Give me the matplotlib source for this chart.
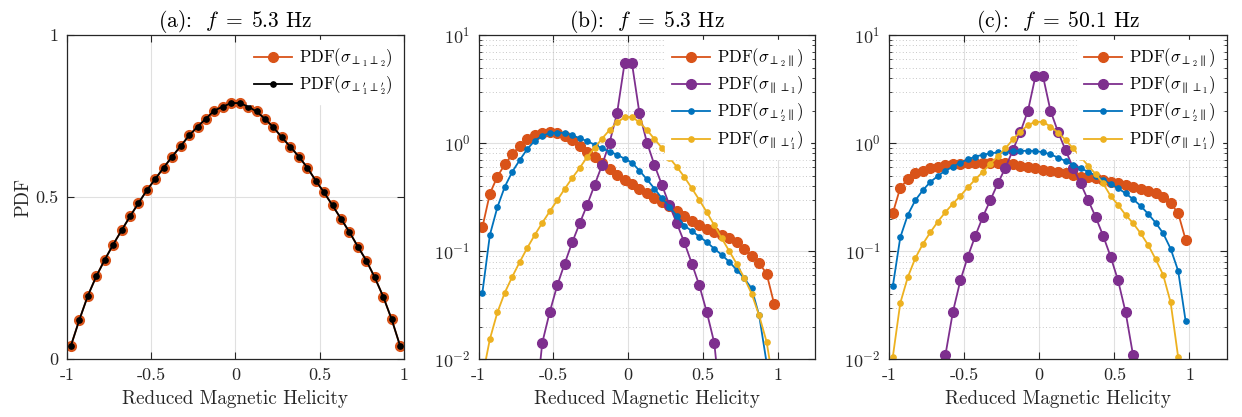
import numpy as np
import matplotlib
matplotlib.use("Agg")
import matplotlib.pyplot as plt
from matplotlib.ticker import LogLocator, NullFormatter

plt.rcParams['font.family'] = 'serif'
plt.rcParams['font.serif'] = ['cmr10', 'DejaVu Serif']
plt.rcParams['mathtext.fontset'] = 'cm'
plt.rcParams['axes.unicode_minus'] = False
plt.rcParams['axes.formatter.use_mathtext'] = True

# bin centres of the reduced magnetic helicity
h_bins = np.arange(-0.975, 1.0, 0.05)

# ---- (a) f = 5.3 Hz, linear ----
pdf_a_perp12 = [0.041, 0.121, 0.195, 0.255, 0.306, 0.353, 0.397, 0.440, 0.481, 0.521,
                0.556, 0.591, 0.625, 0.657, 0.690, 0.717, 0.742, 0.767, 0.779, 0.790,
                0.790, 0.779, 0.764, 0.741, 0.715, 0.684, 0.655, 0.625, 0.591, 0.551,
                0.514, 0.474, 0.433, 0.392, 0.347, 0.304, 0.252, 0.193, 0.123, 0.041]
pdf_a_perp12p = pdf_a_perp12

# ---- (b) f = 5.3 Hz, log ----
pdf_b_perp2par = [0.166, 0.340, 0.489, 0.635, 0.785, 0.945, 1.08, 1.18, 1.24, 1.26,
                  1.23, 1.16, 1.06, 0.94, 0.83, 0.74, 0.65, 0.575, 0.51, 0.458,
                  0.415, 0.378, 0.345, 0.312, 0.285, 0.26, 0.234, 0.211, 0.191, 0.176,
                  0.160, 0.149, 0.140, 0.131, 0.120, 0.105, 0.0896, 0.0778, 0.0615, 0.0325]
pdf_b_parperp1 = [np.nan, np.nan, np.nan, np.nan, np.nan, np.nan, np.nan, 0.003, 0.0141, 0.0272,
                  0.048, 0.0766, 0.120, 0.180, 0.267, 0.409, 0.626, 1.01, 1.88, 5.45,
                  5.45, 1.88, 1.01, 0.626, 0.409, 0.267, 0.180, 0.120, 0.0766, 0.048,
                  0.0272, 0.0141, 0.003, np.nan, np.nan, np.nan, np.nan, np.nan, np.nan, np.nan]
pdf_b_perp2ppar = [0.0413, 0.141, 0.254, 0.395, 0.543, 0.697, 0.88, 1.05, 1.17, 1.23,
                   1.25, 1.24, 1.18, 1.11, 1.04, 0.966, 0.893, 0.832, 0.78, 0.716,
                   0.658, 0.555, 0.461, 0.378, 0.308, 0.258, 0.211, 0.172, 0.153, 0.136,
                   0.121, 0.105, 0.0922, 0.0794, 0.067, 0.056, 0.045, 0.0253, 0.0092, np.nan]
pdf_b_parperp1p = [0.0068, 0.0153, 0.027, 0.0413, 0.058, 0.0794, 0.107, 0.141, 0.182, 0.233,
                   0.295, 0.376, 0.474, 0.587, 0.742, 0.905, 1.10, 1.32, 1.55, 1.73,
                   1.75, 1.55, 1.32, 1.09, 0.90, 0.73, 0.60, 0.485, 0.381, 0.297,
                   0.229, 0.173, 0.131, 0.100, 0.076, 0.0565, 0.0402, 0.0253, 0.0144, 0.0054]

# ---- (c) f = 50.1 Hz, log ----
pdf_c_perp2par = [0.224, 0.386, 0.461, 0.524, 0.555, 0.583, 0.604, 0.622, 0.635, 0.644,
                  0.649, 0.658, 0.658, 0.658, 0.653, 0.649, 0.635, 0.617, 0.604, 0.583,
                  0.563, 0.555, 0.536, 0.524, 0.506, 0.488, 0.481, 0.471, 0.455, 0.439,
                  0.424, 0.406, 0.392, 0.378, 0.362, 0.343, 0.315, 0.277, 0.224, 0.127]
pdf_c_parperp1 = [np.nan, np.nan, np.nan, np.nan, np.nan, np.nan, 0.004, 0.0108, 0.0272, 0.0534,
                  0.089, 0.139, 0.208, 0.297, 0.424, 0.591, 0.862, 1.27, 1.99, 4.16,
                  4.16, 1.99, 1.27, 0.862, 0.591, 0.424, 0.297, 0.208, 0.139, 0.089,
                  0.0534, 0.0272, 0.0108, 0.004, np.nan, np.nan, np.nan, np.nan, np.nan, np.nan]
pdf_c_perp2ppar = [0.047, 0.134, 0.216, 0.295, 0.365, 0.436, 0.495, 0.555, 0.604, 0.658,
                   0.706, 0.748, 0.780, 0.802, 0.820, 0.832, 0.844, 0.844, 0.849, 0.844,
                   0.820, 0.786, 0.732, 0.682, 0.626, 0.583, 0.543, 0.499, 0.455, 0.418,
                   0.381, 0.342, 0.302, 0.262, 0.221, 0.183, 0.146, 0.105, 0.0656, 0.0223]
pdf_c_parperp1p = [0.0104, 0.033, 0.0573, 0.0859, 0.116, 0.149, 0.187, 0.229, 0.274, 0.324,
                   0.389, 0.461, 0.543, 0.640, 0.758, 0.893, 1.08, 1.27, 1.47, 1.57,
                   1.57, 1.42, 1.25, 1.07, 0.893, 0.748, 0.617, 0.517, 0.424, 0.324,
                   0.267, 0.216, 0.181, 0.146, 0.114, 0.0841, 0.0602, 0.0334, 0.0104, np.nan]

c_orange = '#D95319'
c_purple = '#7E2F8E'
c_blue = '#0072BD'
c_yellow = '#EDB120'
ax_col = '#262626'

fig = plt.figure(figsize=(12.42, 4.17), dpi=100)
ax_a = fig.add_axes([0.0537, 0.139, 0.2718, 0.777])
ax_b = fig.add_axes([0.3854, 0.139, 0.2710, 0.777])
ax_c = fig.add_axes([0.7158, 0.139, 0.2721, 0.777])

big = dict(marker='o', markersize=7, linewidth=1.3)
small = dict(marker='o', markersize=3.8, linewidth=1.3)

# (a)
ax_a.plot(h_bins, pdf_a_perp12, color=c_orange, label=r'PDF($\sigma_{\perp_1\perp_2}$)', **big)
ax_a.plot(h_bins, pdf_a_perp12p, color='black', label=r'PDF($\sigma_{\perp_1^{\prime}\perp_2^{\prime}}$)', **small)
ax_a.set_ylim(0, 1)
ax_a.set_xlim(-1, 1)
ax_a.set_yticks([0, 0.5, 1])
ax_a.set_yticklabels(['0', '0.5', '1'])
ax_a.set_ylabel('PDF', fontsize=13.5, color=ax_col, labelpad=2)

# (b) and (c)
for ax, d in ((ax_b, (pdf_b_perp2par, pdf_b_parperp1, pdf_b_perp2ppar, pdf_b_parperp1p)),
              (ax_c, (pdf_c_perp2par, pdf_c_parperp1, pdf_c_perp2ppar, pdf_c_parperp1p))):
    ax.plot(h_bins, d[0], color=c_orange, label=r'PDF($\sigma_{\perp_2\parallel}$)', **big)
    ax.plot(h_bins, d[1], color=c_purple, label=r'PDF($\sigma_{\parallel\perp_1}$)', **big)
    ax.plot(h_bins, d[2], color=c_blue, label=r'PDF($\sigma_{\perp_2^{\prime}\parallel}$)', **small)
    ax.plot(h_bins, d[3], color=c_yellow, label=r'PDF($\sigma_{\parallel\perp_1^{\prime}}$)', **small)
    ax.set_yscale('log')
    ax.set_ylim(1e-2, 1e1)
    ax.set_xlim(-1, 1.25)
    ax.yaxis.set_minor_locator(LogLocator(base=10, subs=np.arange(2, 10)))
    ax.yaxis.set_minor_formatter(NullFormatter())
    ax.grid(True, which='minor', axis='y', color='#b5b5b5', linestyle=(0, (1, 3)), linewidth=0.6)

titles = [r'(a):  $f\;=\;5.3$ Hz', r'(b):  $f\;=\;5.3$ Hz', r'(c):  $f\;=\;50.1$ Hz']
for ax, t in zip((ax_a, ax_b, ax_c), titles):
    ax.set_title(t, fontsize=15.5, pad=4, color='black')
    ax.set_xticks([-1, -0.5, 0, 0.5, 1])
    ax.set_xticklabels(['-1', '-0.5', '0', '0.5', '1'])
    ax.set_xlabel('Reduced Magnetic Helicity', fontsize=13.8, color=ax_col, labelpad=5)
    ax.grid(True, which='major', color='#e0e0e0', linewidth=0.8)
    ax.set_axisbelow(True)
    ax.tick_params(which='both', direction='in', top=True, right=True, colors=ax_col, labelsize=13)
    ax.tick_params(which='major', length=5, pad=6)
    ax.tick_params(which='minor', length=2.5)
    for s in ax.spines.values():
        s.set_color(ax_col)
        s.set_linewidth(0.9)
    ax.legend(loc='upper right', fontsize=12, frameon=True, framealpha=1,
              edgecolor='white', fancybox=False, handlelength=2.3,
              borderaxespad=0.3, labelspacing=0.25, handletextpad=0.4)

plt.savefig('out.png', dpi=100)
